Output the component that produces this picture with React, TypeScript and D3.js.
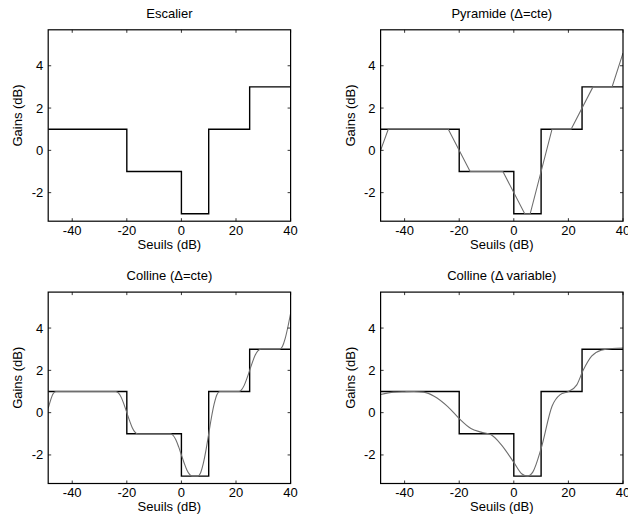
import React from "react";
import * as d3 from "d3";

// ---- data ----
const xTicks = [-40, -20, 0, 20, 40];
const yTicks = [-2, 0, 2, 4];
const xDomain: [number, number] = [-48.8, 40];
const yDomain: [number, number] = [-3.35, 5.7];

const titles = ["Escalier", "Pyramide (\u0394=cte)", "Colline (\u0394=cte)", "Colline (\u0394 variable)"];

// staircase (thresholds / gains)
const stairX = [-48.8, -20, -20, 0, 0, 10, 10, 25, 25, 40];
const stairY = [1, 1, -1, -1, -3, -3, 1, 1, 3, 3];

// pyramide (linear transitions)
const pyrX = [-48.8, -46, -24, -16, -4, 4, 6, 14, 21, 29, 36, 40];
const pyrY = [0, 1, 1, -1, -1, -3, -3, 1, 1, 3, 3, 4.6];

// colline, constant width
const colX = [-48.8, -48, -47, -46, -24, -23, -22, -21, -20, -19, -18, -17, -16, -4, -3, -2, -1, 0, 1, 2, 3, 4, 6, 7, 8, 9, 10, 11, 12, 13, 14, 21, 22, 23, 24, 25, 26, 27, 28, 29, 36, 37, 38, 39, 40];
const colY = [0.2, 0.56, 0.89, 1, 1, 0.92, 0.71, 0.38, 0, -0.38, -0.71, -0.92, -1, -1, -1.08, -1.29, -1.62, -2, -2.38, -2.71, -2.92, -3, -3, -2.85, -2.41, -1.77, -1, -0.23, 0.41, 0.85, 1, 1, 1.08, 1.29, 1.62, 2, 2.38, 2.71, 2.92, 3, 3, 3.13, 3.5, 4.05, 4.7];

// colline, variable width
const varX = [-48.8, -44, -40, -36.6, -33, -29.2, -24.3, -20, -15.7, -12, -8.3, -4.7, 0, 3, 5, 7, 10, 14, 17, 20, 23, 25.4, 28.5, 32, 36, 40];
const varY = [0.86, 0.97, 0.99, 1.0, 0.97, 0.78, 0.3, -0.28, -0.75, -0.92, -1.05, -1.5, -2.35, -2.9, -3.0, -2.8, -1.7, 0.3, 0.85, 1.0, 1.3, 2.0, 2.67, 2.95, 3.03, 3.06];

const curvesX = [null, pyrX, colX, varX];
const curvesY = [null, pyrY, colY, varY];

// ---- layout ----
const W = 628, H = 521;
const PW = 242.4, PH = 191.4;
const origins = [
  [48.2, 29.8],
  [380.6, 29.8],
  [48.2, 292.1],
  [380.6, 292.1],
];
const FONT = "'Liberation Sans', Arial, Helvetica, sans-serif";
const FS = 13;

function Panel({ i }: { i: number }) {
  const [ox, oy] = origins[i];
  const x = d3.scaleLinear().domain(xDomain).range([0, PW]);
  const y = d3.scaleLinear().domain(yDomain).range([PH, 0]);
  const stair = d3.line<number>().x((_, k) => x(stairX[k])).y((_, k) => y(stairY[k]))(stairX);
  const cx = curvesX[i];
  const cy = curvesY[i];
  let curve: string | null = null;
  if (cx && cy) {
    const gen = d3
      .line<number>()
      .x((_, k) => x(cx[k]))
      .y((_, k) => y(cy[k]))
      .curve(i === 1 ? d3.curveLinear : d3.curveMonotoneX);
    curve = gen(cx);
  }
  const tl = 3;
  return (
    <g transform={`translate(${ox},${oy})`}>
      <defs>
        <clipPath id={`clip${i}`}>
          <rect x={0} y={0} width={PW} height={PH} />
        </clipPath>
      </defs>
      <g clipPath={`url(#clip${i})`}>
        <path d={stair || ""} fill="none" stroke="#000" strokeWidth={1.4} />
        {curve && <path d={curve} fill="none" stroke="#6e6e6e" strokeWidth={1.1} />}
      </g>
      <rect x={0} y={0} width={PW} height={PH} fill="none" stroke="#000" strokeWidth={1.2} />
      {xTicks.map((t) => (
        <g key={"x" + t}>
          <line x1={x(t)} x2={x(t)} y1={PH} y2={PH - tl} stroke="#000" strokeWidth={0.8} />
          <line x1={x(t)} x2={x(t)} y1={0} y2={tl} stroke="#000" strokeWidth={0.8} />
          <text x={x(t)} y={PH + 14} textAnchor="middle" fontFamily={FONT} fontSize={FS} fill="#000">
            {t}
          </text>
        </g>
      ))}
      {yTicks.map((t) => (
        <g key={"y" + t}>
          <line x1={0} x2={tl} y1={y(t)} y2={y(t)} stroke="#000" strokeWidth={0.8} />
          <line x1={PW} x2={PW - tl} y1={y(t)} y2={y(t)} stroke="#000" strokeWidth={0.8} />
          <text x={-5} y={y(t)} dy="0.35em" textAnchor="end" fontFamily={FONT} fontSize={FS} fill="#000">
            {t}
          </text>
        </g>
      ))}
      <text x={PW / 2} y={-12} textAnchor="middle" fontFamily={FONT} fontSize={FS} fill="#000">
        {titles[i]}
      </text>
      <text x={PW / 2} y={PH + 28} textAnchor="middle" fontFamily={FONT} fontSize={FS} fill="#000">
        Seuils (dB)
      </text>
      <text
        transform={`translate(${-26},${PH / 2 - 10}) rotate(-90)`}
        textAnchor="middle"
        fontFamily={FONT}
        fontSize={FS}
        fill="#000"
      >
        Gains (dB)
      </text>
    </g>
  );
}

export default function App() {
  return (
    <svg
      width={W}
      height={H}
      style={{ position: "absolute", left: 0, top: 0, background: "#fff" }}
    >
      <rect width={W} height={H} fill="#fff" />
      {[0, 1, 2, 3].map((i) => (
        <Panel key={i} i={i} />
      ))}
    </svg>
  );
}
